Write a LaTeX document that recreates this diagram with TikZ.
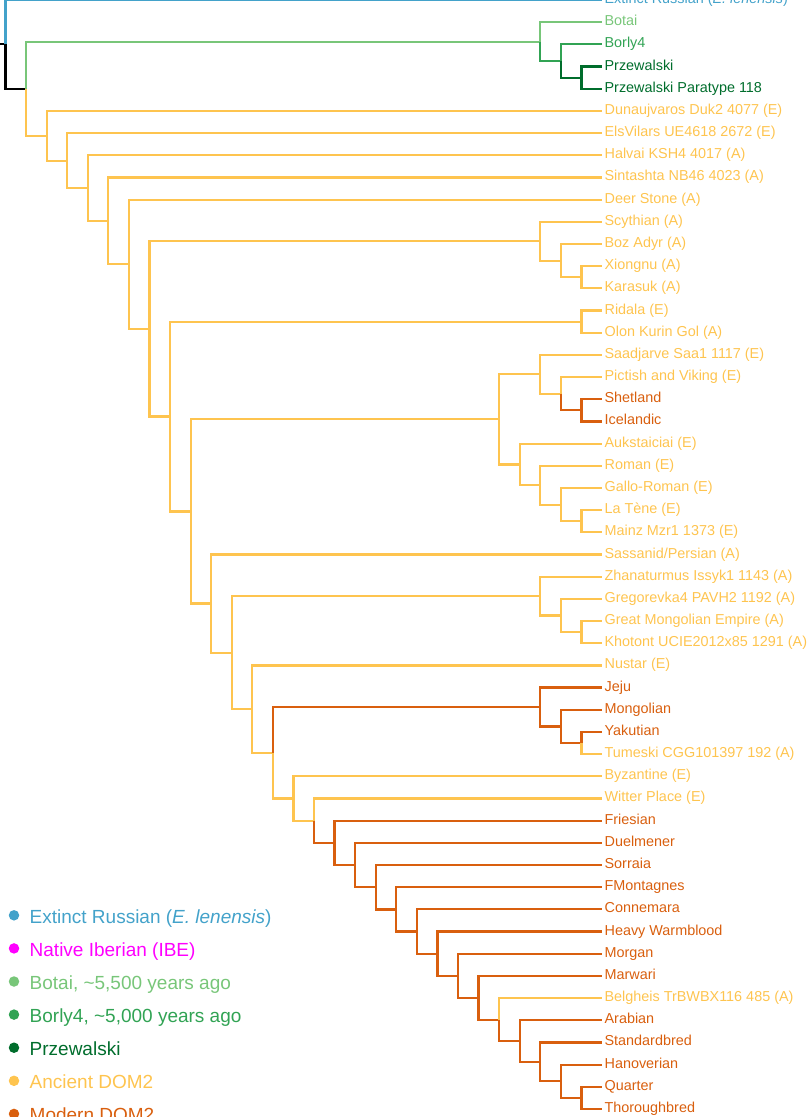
\documentclass[tikz,border=0pt]{standalone}
\usepackage{fontspec}
\setmainfont{Liberation Sans}
\usepackage{tikz}

\definecolor{cExt}{HTML}{43A2CA}
\definecolor{cIbe}{HTML}{FF00FF}
\definecolor{cBot}{HTML}{78C679}
\definecolor{cBor}{HTML}{31A354}
\definecolor{cPrz}{HTML}{006D2C}
\definecolor{cAnc}{HTML}{FEC44F}
\definecolor{cMod}{HTML}{D95F0E}

\begin{document}
\begin{tikzpicture}[x=1pt,y=1pt,yscale=-1,xscale=1,
  edge/.style={line width=2.2pt},
  blk/.style={edge,draw=black},
  ext/.style={edge,draw=cExt},
  bot/.style={edge,draw=cBot},
  bor/.style={edge,draw=cBor},
  prz/.style={edge,draw=cPrz},
  anc/.style={edge,draw=cAnc},
  mod/.style={edge,draw=cMod},
  tip/.style={anchor=west,inner sep=2.4pt,text height=7pt,text depth=0pt,font=\fontsize{14.4}{16}\selectfont},
  key/.style={anchor=base west,inner sep=0pt,font=\fontsize{19}{22}\selectfont},
  dot/.style={circle,fill=#1,inner sep=0pt,minimum size=10.5pt}]
\useasboundingbox (0,0) rectangle (810,1117);

% Tip labels
\foreach \n/\col/\lab in {
  0/cExt/{Extinct Russian (\textit{E. lenensis})},
  1/cBot/{Botai}, 2/cBor/{Borly4}, 3/cPrz/{Przewalski}, 4/cPrz/{Przewalski Paratype 118},
  5/cAnc/{Dunaujvaros Duk2 4077 (E)}, 6/cAnc/{ElsVilars UE4618 2672 (E)},
  7/cAnc/{Halvai KSH4 4017 (A)}, 8/cAnc/{Sintashta NB46 4023 (A)},
  9/cAnc/{Deer Stone (A)}, 10/cAnc/{Scythian (A)}, 11/cAnc/{Boz Adyr (A)},
  12/cAnc/{Xiongnu (A)}, 13/cAnc/{Karasuk (A)}, 14/cAnc/{Ridala (E)},
  15/cAnc/{Olon Kurin Gol (A)}, 16/cAnc/{Saadjarve Saa1 1117 (E)},
  17/cAnc/{Pictish and Viking (E)}, 18/cMod/{Shetland}, 19/cMod/{Icelandic},
  20/cAnc/{Aukstaiciai (E)}, 21/cAnc/{Roman (E)}, 22/cAnc/{Gallo-Roman (E)},
  23/cAnc/{La Tène (E)}, 24/cAnc/{Mainz Mzr1 1373 (E)}, 25/cAnc/{Sassanid/Persian (A)},
  26/cAnc/{Zhanaturmus Issyk1 1143 (A)}, 27/cAnc/{Gregorevka4 PAVH2 1192 (A)},
  28/cAnc/{Great Mongolian Empire (A)}, 29/cAnc/{Khotont UCIE2012x85 1291 (A)},
  30/cAnc/{Nustar (E)}, 31/cMod/{Jeju}, 32/cMod/{Mongolian}, 33/cMod/{Yakutian},
  34/cAnc/{Tumeski CGG101397 192 (A)}, 35/cAnc/{Byzantine (E)}, 36/cAnc/{Witter Place (E)},
  37/cMod/{Friesian}, 38/cMod/{Duelmener}, 39/cMod/{Sorraia}, 40/cMod/{FMontagnes},
  41/cMod/{Connemara}, 42/cMod/{Heavy Warmblood}, 43/cMod/{Morgan}, 44/cMod/{Marwari},
  45/cAnc/{Belgheis TrBWBX116 485 (A)}, 46/cMod/{Arabian}, 47/cMod/{Standardbred},
  48/cMod/{Hanoverian}, 49/cMod/{Quarter}, 50/cMod/{Thoroughbred}}
  \node[tip,text=\col] (l\n) at (602,{22.18*\n}) {\lab};

% Inner nodes
\coordinate (stub) at (0,44.3);
\coordinate (root) at (5.5,44.3);
\coordinate (nA) at (26.0,88.7);
\coordinate (nB) at (540.3,41.6);
\coordinate (nC) at (560.9,61.0);
\coordinate (nD) at (581.4,77.6);
\coordinate (nE) at (46.6,135.7);
\coordinate (nF) at (67.2,160.6);
\coordinate (nG) at (87.7,188.1);
\coordinate (nH) at (108.3,220.8);
\coordinate (nI) at (128.9,264.2);
\coordinate (nJ) at (149.5,328.9);
\coordinate (nK) at (540.3,241.2);
\coordinate (nBoz) at (560.9,260.6);
\coordinate (nXio) at (581.4,277.3);
\coordinate (nL) at (170.0,416.5);
\coordinate (nRid) at (581.4,321.6);
\coordinate (nQ) at (190.6,511.4);
\coordinate (nM) at (499.2,419.3);
\coordinate (nSaa) at (540.3,374.3);
\coordinate (nPic) at (560.9,393.7);
\coordinate (nShe) at (581.4,410.3);
\coordinate (nAuk) at (519.7,464.4);
\coordinate (nRom) at (540.3,485.2);
\coordinate (nGal) at (560.9,504.6);
\coordinate (nLaT) at (581.4,521.2);
\coordinate (nP) at (211.2,603.5);
\coordinate (nR) at (231.7,652.6);
\coordinate (nZha) at (540.3,596.1);
\coordinate (nGre) at (560.9,615.5);
\coordinate (nGME) at (581.4,632.1);
\coordinate (nS) at (252.3,709.1);
\coordinate (nT) at (272.9,752.7);
\coordinate (nJej) at (540.3,707.0);
\coordinate (nMon) at (560.9,726.4);
\coordinate (nYak) at (581.4,743.0);
\coordinate (nU) at (293.5,798.5);
\coordinate (nV) at (314.0,820.7);
\foreach \h/\y in {13/842.8,12/865.0,11/887.2,10/909.4,9/931.5,8/953.7,7/975.7,
  6/997.7,5/1019.6,4/1041.1,3/1061.9,2/1081.3,1/1097.9}
  \coordinate (m\h) at ({602-20.57*\h},\y);

% Edges
\draw[blk] (stub) -- (root) (root) |- (nA);
\draw[ext] (root) |- (l0.west);
\draw[bot] (nA) |- (nB) (nB) |- (l1.west);
\draw[bor] (nB) |- (nC) (nC) |- (l2.west);
\draw[prz] (nC) |- (nD) (nD) |- (l3.west) (nD) |- (l4.west);
\draw[anc] (nA) |- (nE) (nE) |- (l5.west) (nE) |- (nF) (nF) |- (l6.west)
  (nF) |- (nG) (nG) |- (l7.west) (nG) |- (nH) (nH) |- (l8.west)
  (nH) |- (nI) (nI) |- (l9.west) (nI) |- (nJ);
\draw[anc] (nJ) |- (nK) (nK) |- (l10.west) (nK) |- (nBoz) (nBoz) |- (l11.west)
  (nBoz) |- (nXio) (nXio) |- (l12.west) (nXio) |- (l13.west);
\draw[anc] (nJ) |- (nL) (nL) |- (nRid) (nRid) |- (l14.west) (nRid) |- (l15.west)
  (nL) |- (nQ) (nQ) |- (nM);
\draw[anc] (nM) |- (nSaa) (nSaa) |- (l16.west) (nSaa) |- (nPic) (nPic) |- (l17.west);
\draw[mod] (nPic) |- (nShe) (nShe) |- (l18.west) (nShe) |- (l19.west);
\draw[anc] (nM) |- (nAuk) (nAuk) |- (l20.west) (nAuk) |- (nRom) (nRom) |- (l21.west)
  (nRom) |- (nGal) (nGal) |- (l22.west) (nGal) |- (nLaT) (nLaT) |- (l23.west)
  (nLaT) |- (l24.west);
\draw[anc] (nQ) |- (nP) (nP) |- (l25.west) (nP) |- (nR) (nR) |- (nZha)
  (nZha) |- (l26.west) (nZha) |- (nGre) (nGre) |- (l27.west) (nGre) |- (nGME)
  (nGME) |- (l28.west) (nGME) |- (l29.west);
\draw[anc] (nR) |- (nS) (nS) |- (l30.west) (nS) |- (nT) (nT) |- (nU)
  (nU) |- (l35.west) (nU) |- (nV) (nV) |- (l36.west);
\draw[mod] (nT) |- (nJej) (nJej) |- (l31.west) (nJej) |- (nMon) (nMon) |- (l32.west)
  (nMon) |- (nYak) (nYak) |- (l33.west);
\draw[anc] (nYak) |- (l34.west);
\draw[mod] (nV) |- (m13) (m13) |- (l37.west) (m13) |- (m12) (m12) |- (l38.west)
  (m12) |- (m11) (m11) |- (l39.west) (m11) |- (m10) (m10) |- (l40.west)
  (m10) |- (m9) (m9) |- (l41.west) (m9) |- (m8) (m8) |- (l42.west)
  (m8) |- (m7) (m7) |- (l43.west) (m7) |- (m6) (m6) |- (l44.west)
  (m6) |- (m5) (m5) |- (m4) (m4) |- (l46.west) (m4) |- (m3) (m3) |- (l47.west)
  (m3) |- (m2) (m2) |- (l48.west) (m2) |- (m1) (m1) |- (l49.west) (m1) |- (l50.west);
\draw[anc] (m5) |- (l45.west);

% Legend
\foreach \n/\col/\lab in {
  0/cExt/{Extinct Russian (\textit{E. lenensis})},
  1/cIbe/{Native Iberian (IBE)},
  2/cBot/{Botai, \textasciitilde5,500 years ago},
  3/cBor/{Borly4, \textasciitilde5,000 years ago},
  4/cPrz/{Przewalski},
  5/cAnc/{Ancient DOM2},
  6/cMod/{Modern DOM2}}
{
  \node[dot=\col] (d\n) at (14,{915.3+33.1*\n}) {};
  \node[key,text=\col] (k\n) at (29.5,{923.3+33.1*\n}) {\lab};
}

\end{tikzpicture}
\end{document}
